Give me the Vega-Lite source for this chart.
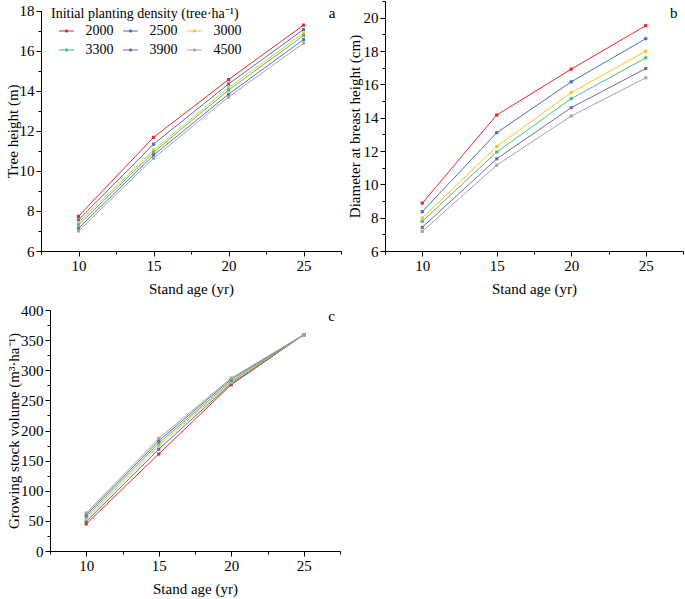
{
  "$schema": "https://vega.github.io/schema/vega-lite/v6.json",
  "background": "white",
  "padding": {"left": 5, "top": 0, "right": 0, "bottom": 3},
  "config": {
    "view": {"stroke": null},
    "font": "Liberation Serif",
    "axis": {
      "grid": false,
      "domainColor": "#000000",
      "tickColor": "#000000",
      "labelColor": "#000000",
      "titleColor": "#000000",
      "labelFont": "Liberation Serif",
      "titleFont": "Liberation Serif",
      "labelFontSize": 15,
      "titleFontSize": 15,
      "titleFontWeight": "normal",
      "labelPadding": 2,
      "domainWidth": 1,
      "tickWidth": 1
    },
    "title": {"font": "Liberation Serif", "fontSize": 15, "fontWeight": "normal", "color": "#000000", "anchor": "end"}
  },
  "datasets": {
    "d": [
      {"age": 10, "density": "2000", "H": 7.73, "D": 8.87, "V": 45},
      {"age": 15, "density": "2000", "H": 11.67, "D": 14.16, "V": 161},
      {"age": 20, "density": "2000", "H": 14.55, "D": 16.91, "V": 276},
      {"age": 25, "density": "2000", "H": 17.27, "D": 19.52, "V": 359},
      {"age": 10, "density": "2500", "H": 7.55, "D": 8.36, "V": 49},
      {"age": 15, "density": "2500", "H": 11.33, "D": 13.1, "V": 169},
      {"age": 20, "density": "2500", "H": 14.33, "D": 16.15, "V": 278},
      {"age": 25, "density": "2500", "H": 17.05, "D": 18.74, "V": 359},
      {"age": 10, "density": "3000", "H": 7.42, "D": 7.98, "V": 53},
      {"age": 15, "density": "3000", "H": 11.03, "D": 12.27, "V": 175},
      {"age": 20, "density": "3000", "H": 14.15, "D": 15.5, "V": 280},
      {"age": 25, "density": "3000", "H": 16.88, "D": 17.99, "V": 359},
      {"age": 10, "density": "3300", "H": 7.3, "D": 7.78, "V": 57},
      {"age": 15, "density": "3300", "H": 10.92, "D": 11.94, "V": 179},
      {"age": 20, "density": "3300", "H": 14.03, "D": 15.14, "V": 282},
      {"age": 25, "density": "3300", "H": 16.75, "D": 17.59, "V": 359},
      {"age": 10, "density": "3900", "H": 7.13, "D": 7.42, "V": 60},
      {"age": 15, "density": "3900", "H": 10.78, "D": 11.53, "V": 183},
      {"age": 20, "density": "3900", "H": 13.82, "D": 14.6, "V": 285},
      {"age": 25, "density": "3900", "H": 16.55, "D": 16.95, "V": 359},
      {"age": 10, "density": "4500", "H": 7.0, "D": 7.18, "V": 63},
      {"age": 15, "density": "4500", "H": 10.63, "D": 11.15, "V": 187},
      {"age": 20, "density": "4500", "H": 13.68, "D": 14.1, "V": 287},
      {"age": 25, "density": "4500", "H": 16.37, "D": 16.39, "V": 359}
    ]
  },
  "bounds": "flush",
  "columns": 2,
  "spacing": {"row": 59, "column": 44},
  "resolve": {"legend": {"color": "independent"}},
  "concat": [
    {
      "width": 300,
      "height": 250,
      "title": {"text": "a", "orient": "top", "anchor": "end", "offset": -20, "dx": -6},
      "data": {"name": "d"},
      "encoding": {
        "x": {
          "field": "age", "type": "quantitative",
          "scale": {"domain": [7.5, 27.5], "nice": false, "zero": false},
          "axis": {
            "title": "Stand age (yr)", "titlePadding": 8,
            "values": [7.5, 10, 12.5, 15, 17.5, 20, 22.5, 25, 27.5],
            "labelExpr": "datum.value % 5 === 0 ? datum.label : ''",
            "tickSize": {"condition": {"test": "datum.value % 5 !== 0", "value": 3}, "value": 5}
          }
        },
        "y": {
          "field": "H", "type": "quantitative",
          "scale": {"domain": [6, 18], "nice": false, "zero": false, "range": [250, 9.5]},
          "axis": {
            "title": "Tree height (m)", "titleX": -21,
            "values": [6, 7, 8, 9, 10, 11, 12, 13, 14, 15, 16, 17, 18],
            "labelExpr": "datum.value % 2 === 0 ? datum.label : ''",
            "tickSize": {"condition": {"test": "datum.value % 2 !== 0", "value": 3}, "value": 5}
          }
        },
        "color": {
          "field": "density", "type": "nominal",
          "scale": {"domain": ["2000", "2500", "3000", "3300", "3900", "4500"], "range": ["#e8262b", "#4472b4", "#f6c324", "#45c07a", "#6a6ab0", "#a5a5a5"]},
          "legend": {
            "title": "Initial planting density (tree·ha⁻¹)",
            "orient": "none", "legendX": 10, "legendY": 6,
            "direction": "horizontal", "columns": 3,
            "columnPadding": 1, "rowPadding": 4,
            "symbolType": "M-1,0L1,0M-0.13,-0.13L0.13,-0.13L0.13,0.13L-0.13,0.13Z",
            "symbolSize": 225, "symbolStrokeWidth": 1,
            "symbolOffset": 7.5,
            "labelOffset": 11,
            "labelFont": "Liberation Serif", "labelFontSize": 14, "labelColor": "#000000",
            "titleFont": "Liberation Serif", "titleFontSize": 14, "titleFontWeight": "normal", "titleColor": "#000000",
            "titlePadding": 2, "titleLimit": 400
          }
        }
      },
      "layer": [
        {"mark": {"type": "line", "strokeWidth": 1}},
        {"mark": {"type": "point", "shape": "square", "filled": true, "size": 10, "opacity": 1}}
      ]
    },
    {
      "width": 298,
      "height": 250,
      "title": {"text": "b", "orient": "top", "anchor": "end", "offset": -20, "dx": -6},
      "data": {"name": "d"},
      "encoding": {
        "x": {
          "field": "age", "type": "quantitative",
          "scale": {"domain": [7.5, 27.5], "nice": false, "zero": false},
          "axis": {
            "title": "Stand age (yr)", "titlePadding": 8,
            "values": [7.5, 10, 12.5, 15, 17.5, 20, 22.5, 25, 27.5],
            "labelExpr": "datum.value % 5 === 0 ? datum.label : ''",
            "tickSize": {"condition": {"test": "datum.value % 5 !== 0", "value": 3}, "value": 5}
          }
        },
        "y": {
          "field": "D", "type": "quantitative",
          "scale": {"domain": [6, 21], "nice": false, "zero": false},
          "axis": {
            "title": "Diameter at breast height (cm)", "titleX": -23,
            "values": [6, 7, 8, 9, 10, 11, 12, 13, 14, 15, 16, 17, 18, 19, 20, 21],
            "labelExpr": "datum.value % 2 === 0 ? datum.label : ''",
            "tickSize": {"condition": {"test": "datum.value % 2 !== 0", "value": 3}, "value": 5}
          }
        },
        "color": {
          "field": "density", "type": "nominal",
          "scale": {"domain": ["2000", "2500", "3000", "3300", "3900", "4500"], "range": ["#e8262b", "#4472b4", "#f6c324", "#45c07a", "#6a6ab0", "#a5a5a5"]},
          "legend": null
        }
      },
      "layer": [
        {"mark": {"type": "line", "strokeWidth": 1}},
        {"mark": {"type": "point", "shape": "square", "filled": true, "size": 10, "opacity": 1}}
      ]
    },
    {
      "width": 300,
      "height": 241,
      "title": {"text": "c", "orient": "top", "anchor": "end", "offset": -21, "dx": -6},
      "data": {"name": "d"},
      "encoding": {
        "x": {
          "field": "age", "type": "quantitative",
          "scale": {"domain": [7.5, 27.5], "nice": false, "zero": false, "range": [9, 299]},
          "axis": {
            "title": "Stand age (yr)", "titlePadding": 8,
            "values": [7.5, 10, 12.5, 15, 17.5, 20, 22.5, 25, 27.5],
            "labelExpr": "datum.value % 5 === 0 ? datum.label : ''",
            "tickSize": {"condition": {"test": "datum.value % 5 !== 0", "value": 3}, "value": 5}
          }
        },
        "y": {
          "field": "V", "type": "quantitative",
          "scale": {"domain": [0, 400], "nice": false},
          "axis": {
            "title": "Growing stock volume (m³·ha⁻¹)", "titleX": -29, "offset": -9,
            "values": [0, 25, 50, 75, 100, 125, 150, 175, 200, 225, 250, 275, 300, 325, 350, 375, 400],
            "labelExpr": "datum.value % 50 === 0 ? datum.label : ''",
            "tickSize": {"condition": {"test": "datum.value % 50 !== 0", "value": 3}, "value": 5}
          }
        },
        "color": {
          "field": "density", "type": "nominal",
          "scale": {"domain": ["2000", "2500", "3000", "3300", "3900", "4500"], "range": ["#e8262b", "#4472b4", "#f6c324", "#45c07a", "#6a6ab0", "#a5a5a5"]},
          "legend": null
        }
      },
      "layer": [
        {"mark": {"type": "line", "strokeWidth": 1}},
        {"mark": {"type": "point", "shape": "square", "filled": true, "size": 10, "opacity": 1}}
      ]
    }
  ]
}
